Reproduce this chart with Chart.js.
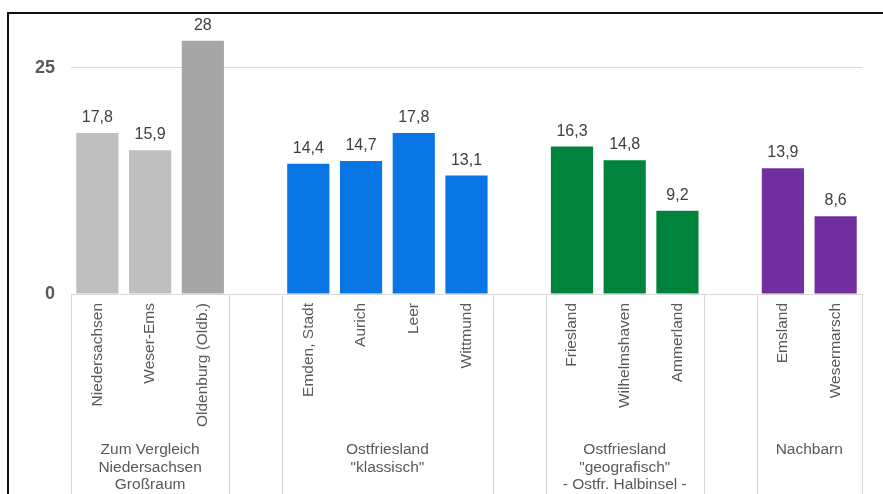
<!DOCTYPE html>
<html>
<head>
<meta charset="utf-8">
<script src="https://cdn.jsdelivr.net/npm/chart.js@4/dist/chart.umd.min.js"></script>
<style>
  html, body { margin: 0; padding: 0; background: #fff; overflow: hidden; }
  #wrap { position: relative; width: 883px; height: 494px; }
  #frame {
    position: absolute; left: 7px; top: 12px; width: 900px; height: 500px;
    border-left: 2px solid #111; border-top: 2px solid #111; pointer-events: none;
  }
</style>
</head>
<body>
<div id="wrap">
  <canvas id="chart" width="883" height="494"></canvas>
  <div id="frame"></div>
</div>
<script>
// Kreise / Regionen, leere Einträge trennen die Gruppen
const regions = [
  'Niedersachsen', 'Weser-Ems', 'Oldenburg (Oldb.)', '',
  'Emden, Stadt', 'Aurich', 'Leer', 'Wittmund', '',
  'Friesland', 'Wilhelmshaven', 'Ammerland', '',
  'Emsland', 'Wesermarsch'
];
const values = [
  17.8, 15.9, 28, null,
  14.4, 14.7, 17.8, 13.1, null,
  16.3, 14.8, 9.2, null,
  13.9, 8.6
];
const barColors = [
  '#BFBFBF', '#BFBFBF', '#A6A6A6', null,
  '#0A76E6', '#0A76E6', '#0A76E6', '#0A76E6', null,
  '#00843D', '#00843D', '#00843D', null,
  '#7030A0', '#7030A0'
];
const yTicks = [0, 25];

// Gruppen: erster/letzter Index und Beschriftung
const groups = [
  { from: 0, to: 2, lines: ['Zum Vergleich', 'Niedersachsen', 'Großraum'] },
  { from: 3, to: 3, lines: [] },
  { from: 4, to: 7, lines: ['Ostfriesland', '"klassisch"'] },
  { from: 8, to: 8, lines: [] },
  { from: 9, to: 11, lines: ['Ostfriesland', '"geografisch"', '- Ostfr. Halbinsel -'] },
  { from: 12, to: 12, lines: [] },
  { from: 13, to: 14, lines: ['Nachbarn'] }
];

const FONT = '"Liberation Sans", Arial, sans-serif';

// Werte über den Balken
const valueLabels = {
  id: 'valueLabels',
  afterDatasetsDraw(chart) {
    const ctx = chart.ctx;
    const meta = chart.getDatasetMeta(0);
    ctx.save();
    ctx.font = '16px ' + FONT;
    ctx.fillStyle = '#404040';
    ctx.textAlign = 'center';
    ctx.textBaseline = 'alphabetic';
    meta.data.forEach((bar, i) => {
      if (values[i] == null) return;
      ctx.fillText(String(values[i]).replace('.', ','), bar.x, bar.y - 11);
    });
    ctx.restore();
  }
};

// Trennlinien und Gruppenbeschriftung unter der Achse
const groupAxis = {
  id: 'groupAxis',
  afterDraw(chart) {
    const ctx = chart.ctx;
    const x = chart.scales.x;
    const top = chart.chartArea.bottom;
    const bottom = chart.height;
    ctx.save();
    ctx.strokeStyle = '#D9D9D9';
    ctx.lineWidth = 1;
    const edges = [groups[0].from - 0.5].concat(groups.map(g => g.to + 0.5));
    edges.forEach(v => {
      const px = Math.round(x.getPixelForValue(v)) + 0.5;
      ctx.beginPath();
      ctx.moveTo(px, top);
      ctx.lineTo(px, bottom);
      ctx.stroke();
    });
    ctx.font = '15.5px ' + FONT;
    ctx.fillStyle = '#595959';
    ctx.textAlign = 'center';
    ctx.textBaseline = 'middle';
    groups.forEach(g => {
      const cx = x.getPixelForValue((g.from + g.to) / 2);
      g.lines.forEach((line, k) => {
        ctx.fillText(line, cx, 450 + k * 17.5);
      });
    });
    ctx.restore();
  }
};

new Chart(document.getElementById('chart'), {
  type: 'bar',
  data: {
    labels: regions,
    datasets: [{
      data: values,
      backgroundColor: barColors,
      barPercentage: 0.8,
      categoryPercentage: 1.0
    }]
  },
  options: {
    responsive: false,
    animation: false,
    layout: { padding: { top: 21, right: 21, left: 0, bottom: 0 } },
    plugins: {
      legend: { display: false },
      tooltip: { enabled: false }
    },
    scales: {
      x: {
        grid: { display: false, drawTicks: false },
        border: { display: false },
        ticks: {
          autoSkip: false,
          minRotation: 90,
          maxRotation: 90,
          padding: 9,
          color: '#595959',
          font: { family: FONT, size: 15.5 }
        },
        afterFit(scale) { scale.height = 200; }
      },
      y: {
        min: 0,
        max: 29.55,
        afterBuildTicks(scale) { scale.ticks = yTicks.map(v => ({ value: v })); },
        grid: { color: '#D9D9D9', lineWidth: 1, drawTicks: false },
        border: { display: false },
        ticks: {
          padding: 16,
          color: '#595959',
          font: { family: FONT, size: 18, weight: 'bold' }
        },
        afterFit(scale) { scale.width = 71; }
      }
    }
  },
  plugins: [valueLabels, groupAxis]
});
</script>
</body>
</html>
